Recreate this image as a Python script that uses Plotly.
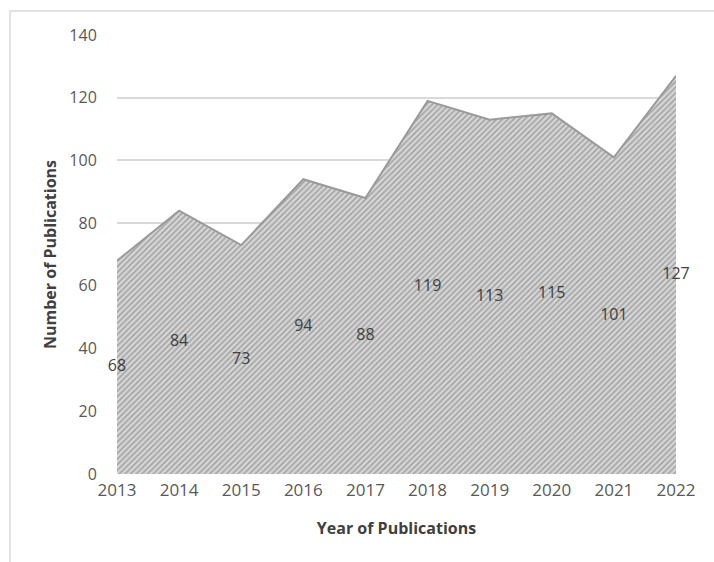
import plotly.graph_objects as go

years = [2013, 2014, 2015, 2016, 2017, 2018, 2019, 2020, 2021, 2022]
publications = [68, 84, 73, 94, 88, 119, 113, 115, 101, 127]
y_ticks = [0, 20, 40, 60, 80, 100, 120, 140]

fig = go.Figure()
fig.add_trace(go.Scatter(
    x=years, y=publications, mode="lines", fill="tozeroy",
    line=dict(color="#9a9a9a", width=2),
    fillcolor="#d2d2d2",
    fillpattern=dict(shape="/", bgcolor="#d6d6d6", fgcolor="#6f6f6f",
                     size=4, solidity=0.4),
    hoverinfo="skip", showlegend=False,
))
fig.add_trace(go.Scatter(
    x=years, y=[v / 2 for v in publications], mode="text",
    text=[str(v) for v in publications], textposition="middle center",
    textfont=dict(family="Open Sans, Liberation Sans, sans-serif", size=16, color="#404040"),
    cliponaxis=False,
    showlegend=False, hoverinfo="skip",
))

L, R, T, B = 117, 38, 35, 88
W, H = 714, 562
pw, ph = W - L - R, H - T - B

def px_to_paper_x(px):
    return (px - L) / pw

def px_to_paper_y(py):
    return (H - B - py) / ph

fig.add_shape(type="rect", xref="paper", yref="paper",
              x0=px_to_paper_x(10), x1=px_to_paper_x(730),
              y0=px_to_paper_y(580), y1=px_to_paper_y(11),
              line=dict(color="#d9d9d9", width=1.5), fillcolor="rgba(0,0,0,0)", layer="below")

fig.update_layout(
    width=W, height=H,
    margin=dict(l=L, r=R, t=T, b=B),
    paper_bgcolor="white", plot_bgcolor="white",
    font=dict(family="Open Sans, Liberation Sans, sans-serif", color="#595959"),
    xaxis=dict(
        range=[2013, 2022], tickmode="array", tickvals=years,
        ticktext=[str(y) for y in years],
        tickfont=dict(size=17, color="#595959"),
        showgrid=False, zeroline=False, showline=False,
        ticks="outside", ticklen=1, tickcolor="rgba(0,0,0,0)",
        title=dict(text="<b>Year of Publications</b>", font=dict(size=16, color="#404040"), standoff=22),
    ),
    yaxis=dict(
        range=[0, 140], tickmode="array", tickvals=y_ticks,
        tickfont=dict(size=16, color="#595959"),
        showgrid=True, gridcolor="#d9d9d9", gridwidth=1.5,
        zeroline=False, showline=False,
        ticks="outside", ticklen=16, tickcolor="rgba(0,0,0,0)",
        title=dict(text="<b>Number of Publications</b>", font=dict(size=16, color="#404040"), standoff=8),
    ),
)

fig.write_html("out.html")
